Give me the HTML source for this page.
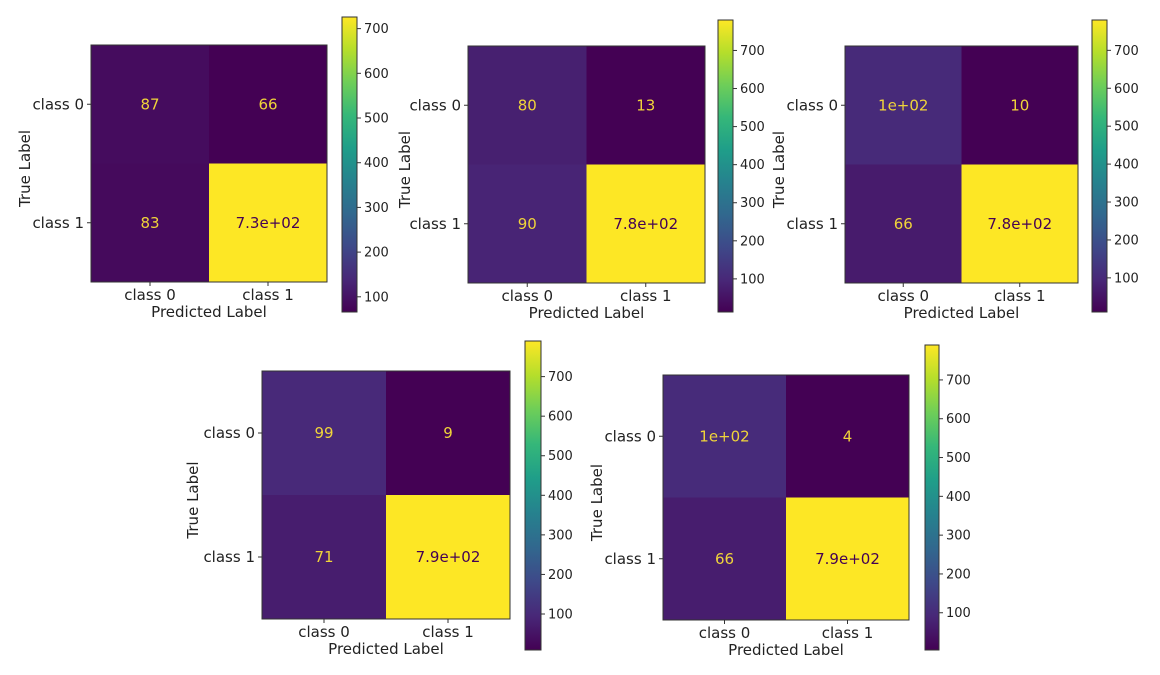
<!DOCTYPE html>
<html><head><meta charset="utf-8">
<style>
html,body{margin:0;padding:0;background:#fff;}
svg{display:block;font-family:"DejaVu Sans","Liberation Sans",sans-serif;}
</style></head>
<body>
<svg id="chart" width="1160" height="675" viewBox="0 0 1160 675" xmlns="http://www.w3.org/2000/svg"></svg>
<script>
const classLabels = ["class 0", "class 1"];
const panel1Values = [87, 66, 83, 726];
const panel2Values = [80, 13, 90, 780];
const panel3Values = [100, 10, 66, 780];
const panel4Values = [99, 9, 71, 790];
const panel5Values = [100, 4, 66, 790];
const colorbarTickValues = [100, 200, 300, 400, 500, 600, 700];

const panels = [
  {vals: panel1Values, L:91, T:45, W:236, H:237, cb:[342,17,15,295], tl:25},
  {vals: panel2Values, L:468, T:46, W:237, H:237, cb:[718,20,15,292], tl:405},
  {vals: panel3Values, L:845, T:46, W:233, H:237, cb:[1092,20,15,292], tl:779},
  {vals: panel4Values, L:262, T:371, W:248, H:248, cb:[525,341,16,309], tl:193},
  {vals: panel5Values, L:663, T:375, W:246, H:245, cb:[925,345,14,305], tl:597}
];

const vir = ["#440154","#482878","#3e4989","#31688e","#26828e","#1f9e89","#35b779","#6ece58","#b5de2b","#fde725"];
function hex(h){return [1,3,5].map(i=>parseInt(h.substr(i,2),16));}
function viridis(t){
  t=Math.max(0,Math.min(1,t));
  const p=t*9, i=Math.min(8,Math.floor(p)), f=p-i;
  const a=hex(vir[i]), b=hex(vir[i+1]);
  return "rgb("+a.map((v,k)=>Math.round(v+(b[k]-v)*f)).join(",")+")";
}
function fmt(v){
  if (v<100) return String(v);
  const e=Math.floor(Math.log10(v));
  let m=(v/Math.pow(10,e)).toFixed(1);
  if (m.endsWith(".0")) m=m.slice(0,-2);
  return m+"e+"+String(e).padStart(2,"0");
}
const NS="http://www.w3.org/2000/svg";
const svg=document.getElementById("chart");
function el(tag, attrs, parent){
  const e=document.createElementNS(NS,tag);
  for (const k in attrs) e.setAttribute(k, attrs[k]);
  (parent||svg).appendChild(e);
  return e;
}

panels.forEach((p, pi)=>{
  const g=el("g",{});
  
  
  const vmin=Math.min(...p.vals), vmax=Math.max(...p.vals);
  const norm=v=>(v-vmin)/(vmax-vmin);
  const cw=p.W/2, ch=p.H/2;
  p.vals.forEach((v,i)=>{
    const r=Math.floor(i/2), c=i%2;
    const rect=el("rect",{x:p.L+c*cw,y:p.T+r*ch,width:cw,height:ch,fill:viridis(norm(v))},g);
    
    
    const t=el("text",{x:p.L+(c+0.5)*cw,y:p.T+(r+0.5)*ch+5,"text-anchor":"middle","font-size":"15",fill:norm(v)<0.5?"#f0d43a":"#440154"},g);
    t.textContent=fmt(v);
    
    
  });
  el("rect",{x:p.L,y:p.T,width:p.W,height:p.H,fill:"none",stroke:"#333","stroke-width":"1"},g);
  classLabels.forEach((lab,i)=>{
    const yc=p.T+(i+0.5)*ch;
    el("line",{x1:p.L-4,x2:p.L,y1:yc,y2:yc,stroke:"#333"},g);
    const yt=el("text",{x:p.L-7,y:yc+5,"text-anchor":"end","font-size":"15",fill:"#222"},g);
    yt.textContent=lab;
    
    
    const xc=p.L+(i+0.5)*cw;
    el("line",{x1:xc,x2:xc,y1:p.T+p.H,y2:p.T+p.H+4,stroke:"#333"},g);
    const xt=el("text",{x:xc,y:p.T+p.H+18,"text-anchor":"middle","font-size":"15",fill:"#222"},g);
    xt.textContent=lab;
    
    
  });
  const xl=el("text",{x:p.L+p.W/2,y:p.T+p.H+35,"text-anchor":"middle","font-size":"15",fill:"#222"},g);
  xl.textContent="Predicted Label";
  
  
  const yl=el("text",{x:p.tl,y:p.T+p.H/2,"text-anchor":"middle","font-size":"15",fill:"#222",transform:"rotate(-90 "+(p.tl+5)+" "+(p.T+p.H/2)+")"},g);
  yl.textContent="True Label";
  
  
  const [cx,cy,cwid,chgt]=p.cb;
  const gid="grad"+pi;
  const defs=el("defs",{},g);
  const lg=el("linearGradient",{id:gid,x1:"0",y1:"1",x2:"0",y2:"0"},defs);
  vir.forEach((c,i)=>el("stop",{offset:(i/9),"stop-color":c},lg));
  const cb=el("rect",{x:cx,y:cy,width:cwid,height:chgt,fill:"url(#"+gid+")",stroke:"#333","stroke-width":"1"},g);
  
  
  const cbY=v=>cy+chgt-(v-vmin)/(vmax-vmin)*chgt;
  colorbarTickValues.forEach(tv=>{
    if (tv<vmin||tv>vmax) return;
    const y=cbY(tv);
    el("line",{x1:cx+cwid,x2:cx+cwid+4,y1:y,y2:y,stroke:"#333"},g);
    const tt=el("text",{x:cx+cwid+7,y:y+4.5,"font-size":"13",fill:"#222"},g);
    tt.textContent=tv;
    
    
  });
});
</script>
</body></html>
